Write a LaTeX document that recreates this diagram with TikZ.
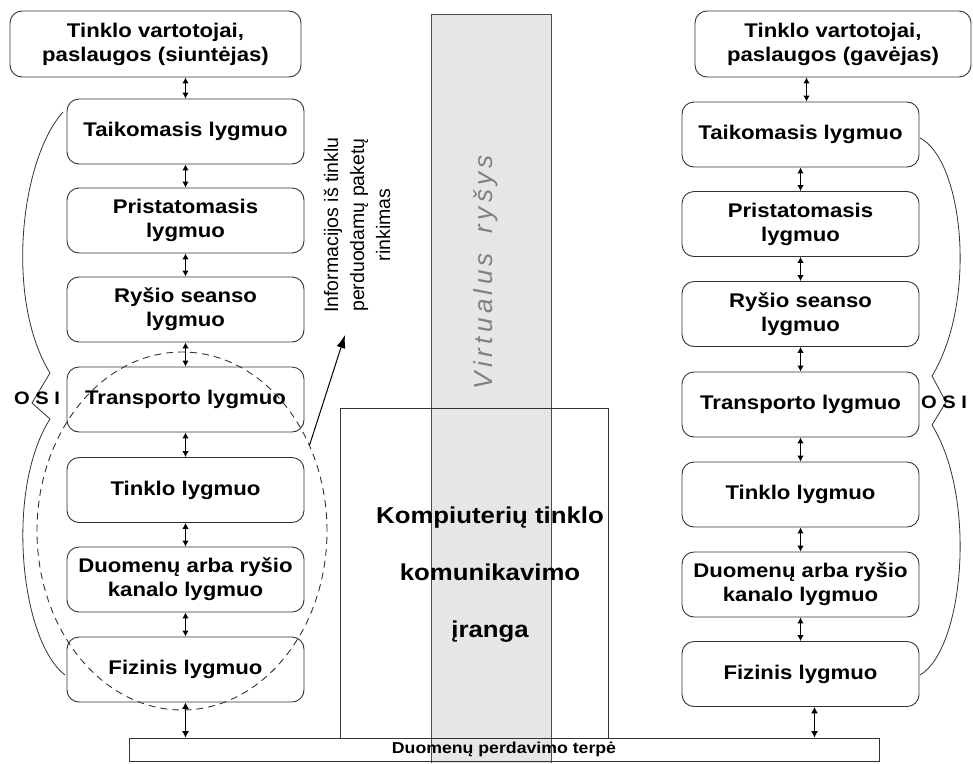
\documentclass[tikz,border=0pt]{standalone}
\usepackage{fontspec}
\setmainfont{Liberation Sans}
\newfontfamily\wf[FakeStretch=1.12]{Liberation Sans}
\newfontfamily\vf[LetterSpace=17]{Liberation Sans}
\usetikzlibrary{arrows.meta,shapes.geometric}
\definecolor{bandgrey}{HTML}{E6E6E6}
\definecolor{linegrey}{HTML}{333333}
\begin{document}
\begin{tikzpicture}[x=1pt,y=-1pt,
  layer/.style={draw=linegrey, line width=0.9pt, rounded corners=12pt, minimum width=237pt, minimum height=65pt, inner sep=0pt, align=center, font=\wf\bfseries\fontsize{19.8}{24}\selectfont},
  topbox/.style={layer, minimum height=66pt},
  dbl/.style={{Latex[length=6pt,width=6.5pt]}-{Latex[length=6pt,width=6.5pt]}, line width=1pt, draw=black},
  dblbig/.style={{Latex[length=6.5pt,width=7pt]}-{Latex[length=6.5pt,width=7pt]}, line width=1pt, draw=black},
  brace/.style={draw=linegrey, line width=0.8pt},
  osi/.style={font=\wf\bfseries\fontsize{18}{20}\selectfont, inner sep=0pt}
]
\useasboundingbox (0,0) rectangle (973,763);
% grey band
\node[fill=bandgrey, minimum width=119pt, minimum height=748pt, inner sep=0pt] (band) at (491.5,389) {};
\draw[draw=black!70, line width=0.9pt] (band.south west) -- (band.north west) -- (band.north east) -- (band.south east);
\node[rotate=90, text=black!50, font=\vf\itshape\fontsize{26}{30}\selectfont] (virt) at (486,272) {Virtualus\hspace{8pt} ryšys};

% centre equipment box
\node[draw=linegrey, line width=0.9pt, minimum width=268pt, minimum height=330pt, inner sep=0pt] (eq) at (474,573) {};
\node[align=center, font=\wf\bfseries\fontsize{23}{57}\selectfont] (eqt) at (490,575) {Kompiuterių tinklo\\komunikavimo\\įranga};

% bottom bar
\node[draw=linegrey, line width=0.9pt, minimum width=750pt, minimum height=23pt, inner sep=0pt, font=\wf\bfseries\fontsize{15.8}{18}\selectfont] (bar) at (504,749.5) {Duomenų perdavimo terpė};

% left stack
\node[topbox, minimum width=291pt] (L0) at (155.5,44) {Tinklo vartotojai,\\paslaugos (siuntėjas)};
\node[layer] (L1) at (185.5,131.5) {Taikomasis lygmuo};
\node[layer] (L2) at (185.5,220.5) {Pristatomasis\\lygmuo};
\node[layer] (L3) at (185.5,309.5) {Ryšio seanso\\lygmuo};
\node[layer] (L4) at (185.5,399.5) {Transporto lygmuo};
\node[layer] (L5) at (185.5,490) {Tinklo lygmuo};
\node[layer] (L6) at (185.5,579.5) {Duomenų arba ryšio\\kanalo lygmuo};
\node[layer] (L7) at (185.5,669.5) {Fizinis lygmuo};

% right stack
\node[topbox, minimum width=276pt] (R0) at (833,44) {Tinklo vartotojai,\\paslaugos (gavėjas)};
\node[layer] (R1) at (800.5,134.5) {Taikomasis lygmuo};
\node[layer] (R2) at (800.5,224) {Pristatomasis\\lygmuo};
\node[layer] (R3) at (800.5,314) {Ryšio seanso\\lygmuo};
\node[layer] (R4) at (800.5,404.5) {Transporto lygmuo};
\node[layer] (R5) at (800.5,494.5) {Tinklo lygmuo};
\node[layer] (R6) at (800.5,584.5) {Duomenų arba ryšio\\kanalo lygmuo};
\node[layer] (R7) at (800.5,674) {Fizinis lygmuo};

% connectors left
\draw[dbl] (L0.south -| L1.north) -- (L1.north);
\draw[dbl] (L1) -- (L2);
\draw[dbl] (L2) -- (L3);
\draw[dbl] (L3) -- (L4);
\draw[dbl] (L4) -- (L5);
\draw[dbl] (L5) -- (L6);
\draw[dbl] (L6) -- (L7);
\draw[dblbig] (L7.south) -- (L7.south |- bar.north);

% connectors right
\draw[dbl] ([xshift=6pt]R1.north |- R0.south) -- ([xshift=6pt]R1.north);
\draw[dbl] (R1) -- (R2);
\draw[dbl] (R2) -- (R3);
\draw[dbl] (R3) -- (R4);
\draw[dbl] (R4) -- (R5);
\draw[dbl] (R5) -- (R6);
\draw[dbl] (R6) -- (R7);
\draw[dblbig] ([xshift=14pt]R7.south) -- ([xshift=14pt]R7.south |- bar.north);

% OSI braces
\draw[brace] (63,112) .. controls (20,160) and (5,300) .. (50,373) -- (32,403) -- (50,419) .. controls (5,490) and (20,640) .. (65,675);
\node[osi] (osiL) at (37,398) {O S I};
\draw[brace] (920,138) .. controls (963,160) and (978,300) .. (932,376) -- (946,402) -- (932,425) .. controls (978,500) and (963,650) .. (920,675);
\node[osi] (osiR) at (944,402) {O S I};

% dashed ellipse and annotation
\node[ellipse, draw=linegrey, line width=0.9pt, dash pattern=on 7pt off 5pt, minimum width=290pt, minimum height=358pt, inner sep=0pt] (ell) at (182,531) {};
\coordinate (infotip) at (345,335);
\draw[-{Latex[length=13pt,width=9pt]}, line width=1pt] (ell.34) -- (infotip);
\node[rotate=90, align=center, font=\fontsize{19.5}{26}\selectfont] (info) at (357,225) {Informacijos iš tinklu\\perduodamų paketų\\rinkimas};
\end{tikzpicture}
\end{document}
